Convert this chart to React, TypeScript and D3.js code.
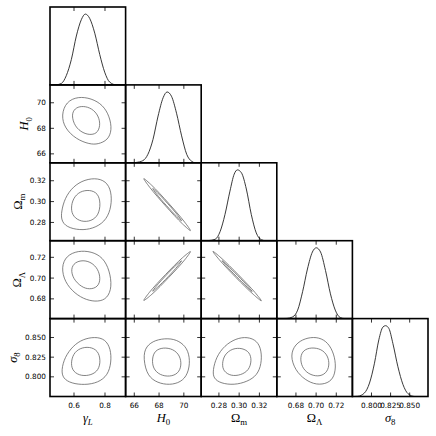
import React from 'react';
import * as d3 from 'd3';

// parameter axes (limits + ticks)
const paramRanges: [number, number][] = [
  [0.445, 0.933],
  [65.3, 71.4],
  [0.2625, 0.3372],
  [0.661, 0.736],
  [0.775, 0.874],
];
const paramTicks = [
  [0.6, 0.8],
  [66, 68, 70],
  [0.28, 0.3, 0.32],
  [0.68, 0.7, 0.72],
  [0.8, 0.825, 0.85],
];
const tickLabels = [
  ['0.6', '0.8'],
  ['66', '68', '70'],
  ['0.28', '0.30', '0.32'],
  ['0.68', '0.70', '0.72'],
  ['0.800', '0.825', '0.850'],
];
// [symbol, symbol italic?, subscript, subscript italic?]
const paramLabels: [string, boolean, string, boolean][] = [
  ['γ', true, 'L', true],
  ['H', true, '0', false],
  ['Ω', false, 'm', false],
  ['Ω', false, 'Λ', false],
  ['σ', true, '8', false],
];

// 1D marginals [value, relative density]
const margGammaL = [[0.47, 0], [0.486, 0.002], [0.518, 0.02], [0.55, 0.13], [0.583, 0.36], [0.615, 0.69], [0.647, 0.92], [0.673, 1.0], [0.701, 0.94], [0.734, 0.73], [0.766, 0.43], [0.798, 0.18], [0.83, 0.04], [0.873, 0], [0.92, 0]];
const margH0 = [[65.4, 0], [65.88, 0], [66.15, 0.005], [66.69, 0.03], [67.1, 0.12], [67.51, 0.33], [67.92, 0.66], [68.33, 0.92], [68.65, 1.0], [69.0, 0.94], [69.41, 0.7], [69.82, 0.38], [70.23, 0.12], [70.64, 0.02], [70.94, 0], [71.3, 0]];
const margOm = [[0.265, 0], [0.2698, 0.002], [0.2763, 0.02], [0.2812, 0.13], [0.286, 0.37], [0.2909, 0.7], [0.2951, 0.94], [0.2983, 1.0], [0.3022, 0.96], [0.3071, 0.73], [0.312, 0.37], [0.3169, 0.11], [0.3218, 0.015], [0.3263, 0], [0.335, 0]];
const margOL = [[0.6625, 0], [0.6703, 0.002], [0.6768, 0.025], [0.6817, 0.12], [0.6866, 0.38], [0.6914, 0.7], [0.6963, 0.94], [0.7002, 1.0], [0.7044, 0.94], [0.7093, 0.68], [0.7142, 0.35], [0.719, 0.12], [0.7239, 0.015], [0.7283, 0], [0.735, 0]];
const margS8 = [[0.776, 0], [0.782, 0.003], [0.7908, 0.05], [0.7974, 0.19], [0.8039, 0.47], [0.8096, 0.8], [0.8149, 0.98], [0.8184, 1.0], [0.8228, 0.96], [0.828, 0.75], [0.8346, 0.42], [0.8412, 0.17], [0.8478, 0.04], [0.8566, 0], [0.872, 0]];
const marginals = [margGammaL, margH0, margOm, margOL, margS8];

// 2D contours (outer ~95%, inner ~68%), points as [x param, y param]
const gammaH0Outer = [[0.518, 69.04], [0.55, 70.09], [0.626, 70.49], [0.712, 70.35], [0.787, 69.83], [0.83, 68.92], [0.845, 67.87], [0.819, 67.08], [0.755, 66.75], [0.701, 66.75], [0.615, 67.14], [0.54, 68.0]];
const gammaH0Inner = [[0.583, 69.04], [0.605, 69.57], [0.647, 69.75], [0.701, 69.65], [0.75, 69.18], [0.772, 68.39], [0.755, 67.66], [0.712, 67.47], [0.658, 67.61], [0.605, 68.13]];
const gammaOmOuter = [[0.518, 0.2902], [0.54, 0.3032], [0.594, 0.3146], [0.669, 0.3212], [0.755, 0.3227], [0.819, 0.3179], [0.845, 0.3065], [0.837, 0.2919], [0.798, 0.2805], [0.723, 0.274], [0.637, 0.2724], [0.55, 0.2756], [0.518, 0.2821]];
const gammaOmInner = [[0.579, 0.2935], [0.594, 0.3032], [0.637, 0.3098], [0.701, 0.3114], [0.755, 0.3081], [0.772, 0.2983], [0.759, 0.287], [0.712, 0.2812], [0.647, 0.2805], [0.594, 0.2854]];
const h0OmOuter = [[70.53, 0.2722], [70.06, 0.2804], [68.77, 0.2984], [67.41, 0.3156], [66.77, 0.322], [67.24, 0.3138], [68.53, 0.2958], [69.89, 0.2786]];
const h0OmInner = [[69.81, 0.2817], [69.52, 0.2867], [68.72, 0.2978], [67.87, 0.3085], [67.49, 0.3125], [67.78, 0.3075], [68.58, 0.2964], [69.43, 0.2857]];
const gammaOLOuter = [[0.518, 0.7105], [0.55, 0.7216], [0.626, 0.7264], [0.712, 0.7257], [0.787, 0.72], [0.83, 0.7073], [0.845, 0.6914], [0.815, 0.6803], [0.755, 0.6771], [0.679, 0.6788], [0.605, 0.685], [0.54, 0.6962]];
const gammaOLInner = [[0.579, 0.7089], [0.605, 0.7152], [0.658, 0.7174], [0.712, 0.7152], [0.755, 0.7089], [0.772, 0.6993], [0.755, 0.6914], [0.701, 0.6889], [0.647, 0.6914], [0.594, 0.6993]];
const h0OLOuter = [[70.53, 0.7255], [70.07, 0.7176], [68.78, 0.7006], [67.42, 0.6844], [66.77, 0.6785], [67.23, 0.6864], [68.52, 0.7034], [69.89, 0.7196]];
const h0OLInner = [[69.81, 0.7166], [69.52, 0.7118], [68.72, 0.7012], [67.88, 0.6912], [67.49, 0.6874], [67.78, 0.6923], [68.58, 0.7028], [69.42, 0.7129]];
const omOLOuter = [[0.3219, 0.6781], [0.3158, 0.686], [0.2993, 0.7031], [0.282, 0.7196], [0.2741, 0.7257], [0.2802, 0.7179], [0.2967, 0.7007], [0.314, 0.6843]];
const omOLInner = [[0.3128, 0.6871], [0.3089, 0.6918], [0.2986, 0.7024], [0.2879, 0.7127], [0.2832, 0.7167], [0.2871, 0.712], [0.2974, 0.7014], [0.3081, 0.6911]];
const gammaS8Outer = [[0.518, 0.8084], [0.54, 0.825], [0.594, 0.8396], [0.658, 0.8479], [0.734, 0.8509], [0.802, 0.8479], [0.837, 0.8354], [0.841, 0.8188], [0.819, 0.8021], [0.755, 0.7925], [0.669, 0.7896], [0.583, 0.7916], [0.529, 0.7979]];
const gammaS8Inner = [[0.579, 0.8166], [0.594, 0.8291], [0.637, 0.8366], [0.701, 0.8384], [0.755, 0.8334], [0.772, 0.8209], [0.759, 0.8084], [0.712, 0.8021], [0.647, 0.8009], [0.594, 0.8063]];
const h0S8Outer = [[66.69, 0.8291], [67.1, 0.8416], [67.92, 0.8479], [69.0, 0.8491], [69.82, 0.8438], [70.37, 0.8334], [70.51, 0.8166], [70.23, 0.8], [69.55, 0.7916], [68.6, 0.7896], [67.65, 0.7938], [66.96, 0.8041]];
const h0S8Inner = [[67.43, 0.8229], [67.65, 0.8334], [68.33, 0.8375], [69.14, 0.8354], [69.69, 0.8271], [69.82, 0.8146], [69.55, 0.8041], [68.87, 0.8], [68.06, 0.8021], [67.51, 0.8104]];
const omS8Outer = [[0.274, 0.8084], [0.2773, 0.825], [0.2854, 0.8396], [0.2968, 0.8488], [0.3081, 0.8509], [0.3179, 0.8459], [0.3221, 0.8334], [0.3221, 0.8166], [0.3179, 0.8021], [0.3081, 0.7938], [0.2951, 0.7896], [0.2821, 0.7916], [0.2746, 0.7979]];
const omS8Inner = [[0.2831, 0.8166], [0.2854, 0.8284], [0.2935, 0.8363], [0.3032, 0.8366], [0.3104, 0.8313], [0.3124, 0.8209], [0.3098, 0.8084], [0.3017, 0.8021], [0.2919, 0.8009], [0.2844, 0.8071]];
const olS8Outer = [[0.6743, 0.8271], [0.6792, 0.8416], [0.689, 0.8491], [0.7003, 0.8509], [0.71, 0.8459], [0.7166, 0.8334], [0.7198, 0.8166], [0.7182, 0.8], [0.7117, 0.7916], [0.7003, 0.7896], [0.689, 0.7959], [0.6792, 0.8084]];
const olS8Inner = [[0.6841, 0.825], [0.6873, 0.8341], [0.6954, 0.8375], [0.7052, 0.8354], [0.7117, 0.8271], [0.7134, 0.8146], [0.71, 0.8041], [0.702, 0.8], [0.6922, 0.8034], [0.6857, 0.8125]];

// row param, col param -> contours; thin = strongly degenerate pair
const contourSets: { row: number; col: number; thin: boolean; lines: number[][][] }[] = [
  { row: 1, col: 0, thin: false, lines: [gammaH0Outer, gammaH0Inner] },
  { row: 2, col: 0, thin: false, lines: [gammaOmOuter, gammaOmInner] },
  { row: 2, col: 1, thin: true, lines: [h0OmOuter, h0OmInner] },
  { row: 3, col: 0, thin: false, lines: [gammaOLOuter, gammaOLInner] },
  { row: 3, col: 1, thin: true, lines: [h0OLOuter, h0OLInner] },
  { row: 3, col: 2, thin: true, lines: [omOLOuter, omOLInner] },
  { row: 4, col: 0, thin: false, lines: [gammaS8Outer, gammaS8Inner] },
  { row: 4, col: 1, thin: false, lines: [h0S8Outer, h0S8Inner] },
  { row: 4, col: 2, thin: false, lines: [omS8Outer, omS8Inner] },
  { row: 4, col: 3, thin: false, lines: [olS8Outer, olS8Inner] },
];

const left = 50, right = 428, top = 7, bottom = 396.5;
const n = 5;
const cw = (right - left) / n;
const ch = (bottom - top) / n;
const tickLen = 4;
const tickFont = 7.3;

const MathLabel = ({ x, y, p, rotate }: { x: number; y: number; p: [string, boolean, string, boolean]; rotate?: boolean }) => (
  <text
    x={x}
    y={y}
    textAnchor="middle"
    fontFamily="'Liberation Serif', 'DejaVu Serif', serif"
    fontSize={12.5}
    fill="#000"
    transform={rotate ? `rotate(-90 ${x} ${y})` : undefined}
  >
    <tspan dy="0.3em" fontStyle={p[1] ? 'italic' : 'normal'}>{p[0]}</tspan>
    <tspan dy="0.35em" fontSize="8.8" fontStyle={p[3] ? 'italic' : 'normal'}>{p[2]}</tspan>
  </text>
);

export default function App() {
  const xs = paramRanges.map((d, j) => d3.scaleLinear().domain(d).range([left + j * cw, left + (j + 1) * cw]));
  const ys = paramRanges.map((d, i) => d3.scaleLinear().domain(d).range([top + (i + 1) * ch, top + i * ch]));

  const panels: React.ReactNode[] = [];
  for (let i = 0; i < n; i++) {
    for (let j = 0; j <= i; j++) {
      const x0 = left + j * cw, y0 = top + i * ch;
      const x1 = x0 + cw, y1 = y0 + ch;
      const id = `clip-${i}-${j}`;
      const curves: React.ReactNode[] = [];
      if (i === j) {
        const yd = d3.scaleLinear().domain([0, 1.1]).range([y1, y0]);
        const line = d3.line<number[]>()
          .x(d => xs[j](d[0]))
          .y(d => yd(d[1]))
          .curve(d3.curveMonotoneX);
        curves.push(<path key="m" d={line(marginals[j]) || ''} fill="none" stroke="#222" strokeWidth={0.9} />);
      } else {
        const set = contourSets.find(c => c.row === i && c.col === j);
        const line = d3.line<number[]>()
          .x(d => xs[j](d[0]))
          .y(d => ys[i](d[1]))
          .curve(set?.thin ? d3.curveCatmullRomClosed.alpha(0.5) : d3.curveBasisClosed);
        set?.lines.forEach((pts, k) => {
          curves.push(<path key={k} d={line(pts) || ''} fill="none" stroke="#5a5a5a" strokeWidth={0.75} />);
        });
      }

      const ticks: React.ReactNode[] = [];
      paramTicks[j].forEach((t, k) => {
        const x = xs[j](t);
        ticks.push(<line key={`xb${k}`} x1={x} x2={x} y1={y1} y2={y1 - tickLen} stroke="#000" strokeWidth={0.8} />);
        ticks.push(<line key={`xt${k}`} x1={x} x2={x} y1={y0} y2={y0 + tickLen} stroke="#000" strokeWidth={0.8} />);
        if (i === n - 1) {
          ticks.push(
            <text key={`xl${k}`} x={x} y={y1 + 11} textAnchor="middle" fontFamily="'DejaVu Sans', sans-serif" fontSize={tickFont} fill="#000">
              {tickLabels[j][k]}
            </text>
          );
        }
      });
      if (i !== j) {
        paramTicks[i].forEach((t, k) => {
          const y = ys[i](t);
          ticks.push(<line key={`yl${k}`} x1={x0} x2={x0 + tickLen} y1={y} y2={y} stroke="#000" strokeWidth={0.8} />);
          ticks.push(<line key={`yr${k}`} x1={x1} x2={x1 - tickLen} y1={y} y2={y} stroke="#000" strokeWidth={0.8} />);
          if (j === 0) {
            ticks.push(
              <text key={`yt${k}`} x={x0 - 4} y={y} dy="0.36em" textAnchor="end" fontFamily="'DejaVu Sans', sans-serif" fontSize={tickFont} fill="#000">
                {tickLabels[i][k]}
              </text>
            );
          }
        });
      }

      panels.push(
        <g key={id}>
          <clipPath id={id}>
            <rect x={x0} y={y0} width={cw} height={ch} />
          </clipPath>
          <g clipPath={`url(#${id})`}>{curves}</g>
          {ticks}
          <rect x={x0} y={y0} width={cw} height={ch} fill="none" stroke="#000" strokeWidth={1.6} />
        </g>
      );
    }
  }

  // width of the widest tick label per row, to place y labels like matplotlib does
  const labelW = (s: string) => s.split('').reduce((a, c) => a + (c === '.' ? 0.318 : 0.636), 0) * tickFont;

  return (
    <svg width={436} height={436} style={{ position: 'absolute', left: 0, top: 0, background: '#fff' }}>
      <rect width={436} height={436} fill="#fff" />
      {panels}
      {paramLabels.map((p, j) => (
        <MathLabel key={`xlab${j}`} x={left + (j + 0.5) * cw} y={418} p={p} />
      ))}
      {paramLabels.map((p, i) =>
        i === 0 ? null : (
          <MathLabel
            key={`ylab${i}`}
            x={left - 4 - d3.max(tickLabels[i], labelW)! - 12}
            y={top + (i + 0.5) * ch}
            p={p}
            rotate
          />
        )
      )}
    </svg>
  );
}
